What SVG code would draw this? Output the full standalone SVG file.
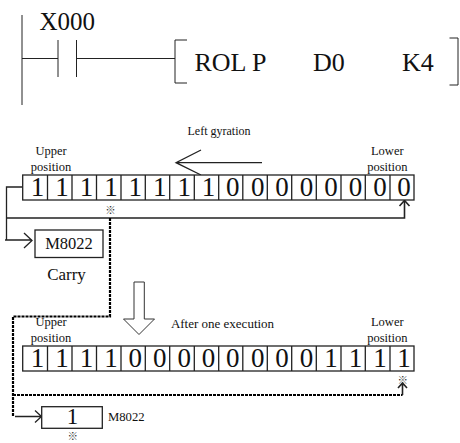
<svg xmlns="http://www.w3.org/2000/svg" width="460" height="443" viewBox="0 0 460 443">
<style>
text{font-family:"Liberation Serif","Times New Roman",serif;fill:#111}
.lad{stroke:#222;stroke-width:1;fill:none}
.big{font-size:26px}
.bit{font-size:27px;text-anchor:middle}
.sm{font-size:12.500px;text-anchor:middle}
.note{font-family:"Noto Sans CJK JP",sans-serif;font-size:10.500px;text-anchor:middle;fill:#333}
.cell{fill:#fff;stroke:#222;stroke-width:1.3}
.sol{stroke:#222;stroke-width:1.3;fill:none}
.thick{stroke:#222;stroke-width:1.6;fill:none}
.dash{stroke:#000;stroke-width:2.200;fill:none;stroke-dasharray:3 1}
.box{fill:#fff;stroke:#222;stroke-width:1.3}
</style>
<g id="connectors">
<path class="lad" d="M22 15V105M22 58.500H58M76.500 58.500H175"/>
<path class="lad" d="M58 40V77M76.500 40V77"/>
<path class="sol" d="M22.500 187H6.500V240M5 240H32M24 233L32 240.500L24 248"/>
<path class="thick" d="M6.500 218H404.500V201"/>
<path class="thick" d="M399.500 206L404.500 200.500L409.500 206"/>
<path class="dash" d="M110 218V316.500H13V416.500"/>
<path class="dash" d="M13 395H402.500"/>
<path class="thick" d="M402.500 395V383M398 388L402.500 383L407 388"/>
<path class="sol" d="M15 416.500H41M35 410.500L41.500 416.500L35 422.500"/>
<path class="sol" d="M262 162.700H176M201 150L176 162.700L201 175"/>
</g>
<g id="contact-label"><text class="big" x="39.500" y="30" style="font-size:25px">X000</text></g>
<g id="instruction">
<path class="lad" d="M187 40H175V83H187M449.500 38H458V85H449.500"/>
<text class="big" x="194.500" y="71">ROL P</text>
<text class="big" x="313" y="71">D0</text>
<text class="big" x="402" y="71">K4</text>
</g>
<g id="left-gyration"><text x="219" y="135" style="font-size:12px;text-anchor:middle">Left gyration</text></g>
<g id="upper-1"><text class="sm" x="51" y="155">Upper</text><text class="sm" x="51" y="171">position</text></g>
<g id="lower-1"><text class="sm" x="387.300" y="155">Lower</text><text class="sm" x="387.300" y="171">position</text></g>
<g id="row-1">
<rect class="cell" x="22.700" y="175" width="391.300" height="25"/>
<path class="sol" d="M47.500 175v25M72 175v25M96.500 175v25M121 175v25M145.300 175v25M169.700 175v25M194.300 175v25M218.700 175v25M242.800 175v25M267.300 175v25M291.700 175v25M316.300 175v25M341 175v25M365.300 175v25M390 175v25"/>
<g class="bits">
<text class="bit" x="37.500" y="196">1</text><text class="bit" x="62" y="196">1</text><text class="bit" x="86.500" y="196">1</text><text class="bit" x="111" y="196">1</text><text class="bit" x="135.300" y="196">1</text><text class="bit" x="159.700" y="196">1</text><text class="bit" x="184.300" y="196">1</text><text class="bit" x="208.500" y="196">1</text><text class="bit" x="232.800" y="196">0</text><text class="bit" x="257.700" y="196">0</text><text class="bit" x="282" y="196">0</text><text class="bit" x="306.500" y="196">0</text><text class="bit" x="331" y="196">0</text><text class="bit" x="355.500" y="196">0</text><text class="bit" x="380" y="196">0</text><text class="bit" x="404" y="196">0</text>
</g>
</g>
<g id="note-1"><text class="note" x="110.500" y="214">※</text></g>
<g id="m8022-carry">
<rect class="box" x="35" y="230" width="68" height="27.500"/>
<text x="69" y="249" style="font-size:16.500px;text-anchor:middle">M8022</text>
<text x="66.500" y="280" style="font-size:17px;text-anchor:middle">Carry</text>
</g>
<g id="down-arrow"><path d="M134 282V319H123.500L139 334.500L154.500 319H144.300V282Z" fill="#fff" stroke="#333" stroke-width="1"/></g>
<g id="after"><text x="222.500" y="328" style="font-size:13px;text-anchor:middle">After one execution</text></g>
<g id="upper-2"><text class="sm" x="51" y="326">Upper</text><text class="sm" x="51" y="342">position</text></g>
<g id="lower-2"><text class="sm" x="387.300" y="326">Lower</text><text class="sm" x="387.300" y="342">position</text></g>
<g id="row-2">
<rect class="cell" x="22.700" y="346" width="391.300" height="25"/>
<path class="sol" d="M47.500 346v25M72 346v25M96.500 346v25M121 346v25M145.300 346v25M169.700 346v25M194.300 346v25M218.700 346v25M242.800 346v25M267.300 346v25M291.700 346v25M316.300 346v25M341 346v25M365.300 346v25M390 346v25"/>
<g class="bits">
<text class="bit" x="37.500" y="367">1</text><text class="bit" x="62" y="367">1</text><text class="bit" x="86.500" y="367">1</text><text class="bit" x="111" y="367">1</text><text class="bit" x="135.300" y="367">0</text><text class="bit" x="159.700" y="367">0</text><text class="bit" x="184.300" y="367">0</text><text class="bit" x="208.500" y="367">0</text><text class="bit" x="232.800" y="367">0</text><text class="bit" x="257.700" y="367">0</text><text class="bit" x="282" y="367">0</text><text class="bit" x="306.500" y="367">0</text><text class="bit" x="331" y="367">1</text><text class="bit" x="355.500" y="367">1</text><text class="bit" x="380" y="367">1</text><text class="bit" x="404" y="367">1</text>
</g>
</g>
<g id="note-2"><text class="note" x="402.800" y="384">※</text></g>
<g id="m8022-result">
<rect class="box" x="41.700" y="406.700" width="60.600" height="21.600"/>
<text x="72.500" y="424.300" style="font-size:23px;text-anchor:middle">1</text>
<text x="108" y="421" style="font-size:12.700px">M8022</text>
<text class="note" x="72.700" y="439.500">※</text>
</g>
</svg>
